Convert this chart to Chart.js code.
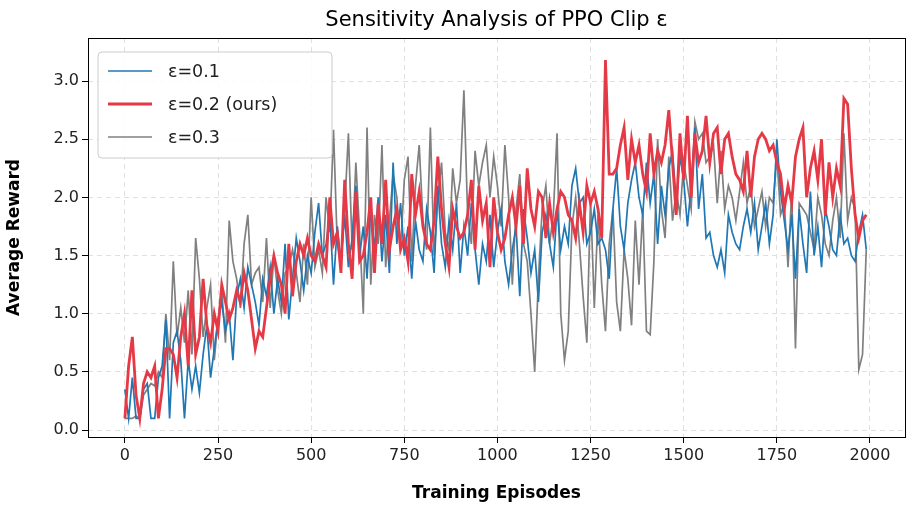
<!DOCTYPE html>
<html><head><meta charset="utf-8">
<script src="https://cdn.jsdelivr.net/npm/chart.js@4/dist/chart.umd.min.js"></script>
<style>html,body{margin:0;padding:0;background:#fff}#w{width:915px;height:508px}</style>
</head><body><div id="w"><canvas id="c"></canvas></div>
<script>
const episodes = Array.from({length:200},(_,i)=>i*10);
const eps01 = [0.35,0.1,0.45,0.1,0.1,0.35,0.4,0.1,0.1,0.45,
0.55,0.95,0.1,0.75,0.85,0.6,0.1,0.6,0.35,0.55,
0.32,0.65,0.9,0.45,0.7,0.95,1.1,0.85,1.0,0.6,
1.15,1.3,1.05,1.4,1.25,1.1,0.9,1.3,1.15,1.4,
1.0,1.3,1.1,1.6,0.95,1.3,1.65,1.45,1.2,1.5,
1.35,1.7,1.95,1.5,1.6,1.85,1.25,1.75,1.45,1.85,
1.4,1.65,2.1,1.5,1.75,1.3,1.9,1.55,2.0,1.45,
1.85,1.35,2.3,1.6,1.95,1.5,1.75,1.3,1.8,1.55,
1.45,1.9,1.7,1.35,2.1,1.6,1.4,1.8,1.55,1.95,
1.35,1.75,1.5,1.95,1.55,1.25,1.6,1.45,1.85,1.4,
1.7,1.9,1.45,1.25,1.55,1.75,1.15,1.9,1.65,1.35,
1.55,1.1,1.7,1.85,1.6,1.4,1.9,1.55,1.75,1.6,
2.1,2.25,1.95,2.0,1.6,1.7,1.9,1.6,1.65,1.55,
1.3,1.9,2.25,1.75,1.55,1.95,2.15,2.3,2.0,1.85,
2.3,1.95,2.2,1.6,2.1,1.85,2.25,2.4,1.95,2.35,
2.15,1.75,2.1,2.6,1.9,2.2,1.65,1.7,1.5,1.4,
1.55,1.35,1.85,1.7,1.6,1.55,1.75,1.9,1.7,1.95,
1.55,1.75,1.95,1.6,1.85,2.5,2.05,1.8,1.55,1.85,
1.3,1.9,1.6,1.35,2.05,1.5,1.75,1.4,1.9,1.75,
1.55,1.5,1.85,1.6,1.65,1.5,1.45,1.7,1.85,1.55];
const eps02 = [0.1,0.55,0.8,0.3,0.1,0.4,0.5,0.45,0.55,0.1,
0.35,0.7,0.7,0.65,0.45,0.8,1.0,0.55,1.2,0.65,
0.8,1.3,0.9,0.75,1.0,0.85,1.25,1.1,0.95,1.05,
1.2,1.1,1.35,1.2,0.95,0.7,0.85,0.8,1.05,1.3,
1.5,1.35,1.25,1.0,1.6,1.15,1.45,1.6,1.5,1.65,
1.5,1.45,1.6,1.5,1.4,2.0,1.6,1.7,1.35,2.15,
1.6,1.3,2.05,1.45,1.5,1.7,2.0,1.35,1.95,1.6,
2.15,1.55,1.75,1.9,1.55,1.65,1.45,2.2,1.85,2.05,
1.75,1.6,1.55,1.8,2.35,1.9,1.6,1.4,1.9,1.75,
1.65,1.7,1.85,2.15,1.55,2.1,1.8,1.95,1.4,2.0,
1.7,1.55,1.65,1.85,2.0,1.75,2.1,1.6,2.25,1.9,
1.75,2.05,2.0,1.65,1.95,1.7,1.9,2.05,2.0,1.85,
1.8,1.65,1.95,1.7,2.1,1.95,2.05,1.9,1.65,3.18,
2.2,2.2,2.25,2.45,2.6,2.15,2.5,2.3,2.45,2.2,
2.05,2.55,2.2,2.4,2.3,2.45,2.75,2.3,1.85,2.55,
2.15,2.7,2.0,2.55,2.3,2.4,2.7,2.3,2.55,2.6,
2.2,2.5,2.55,2.35,2.2,2.15,2.05,2.4,2.0,2.35,
2.5,2.55,2.5,2.4,2.45,2.3,2.2,1.9,2.1,1.95,
2.35,2.5,2.6,2.0,2.25,2.4,2.15,2.5,1.85,2.3,
2.0,2.25,2.1,2.85,2.8,2.25,1.85,1.65,1.8,1.85];
const eps03 = [0.1,0.1,0.1,0.12,0.1,0.3,0.35,0.4,0.38,0.5,
0.45,1.0,0.6,1.45,0.8,1.05,0.75,1.2,0.65,1.65,
1.3,0.8,1.05,1.25,0.6,0.95,1.2,0.75,1.8,1.45,
1.3,1.05,1.6,1.85,1.25,1.35,1.4,1.1,1.65,1.05,
1.5,1.2,1.0,1.35,1.4,1.55,1.35,1.1,1.6,1.25,
2.0,1.4,1.55,1.35,2.0,1.7,2.58,1.6,1.45,1.9,
2.55,1.55,2.3,1.7,1.0,2.6,1.25,1.85,1.6,2.45,
1.4,1.8,2.2,2.0,1.55,2.15,2.35,1.45,2.1,2.45,
1.8,1.55,2.6,1.5,2.0,2.3,1.7,1.55,2.25,1.95,
2.15,2.92,1.85,1.6,2.4,2.1,2.3,2.45,2.0,2.35,
2.1,1.75,2.45,2.0,1.25,1.9,2.2,1.6,1.45,1.0,
0.5,1.3,1.9,2.1,1.6,1.85,2.55,1.0,0.6,0.85,
1.75,2.0,1.6,1.15,0.75,2.0,1.05,1.85,1.25,0.85,
1.6,1.9,1.1,0.85,1.55,1.3,0.9,1.8,1.25,1.9,
0.85,0.82,1.45,2.5,1.9,1.65,2.35,1.8,2.05,1.85,
2.3,2.1,1.9,2.65,2.5,2.55,2.3,2.35,2.45,1.95,
2.4,1.9,2.1,2.0,1.8,2.05,2.3,1.95,2.1,1.75,
1.9,2.05,1.75,2.0,1.95,2.35,1.85,1.95,1.4,2.05,
0.7,1.95,1.9,1.85,1.7,1.55,2.0,1.85,1.6,1.5,
1.8,2.0,1.65,2.55,1.8,2.0,1.9,0.52,0.65,1.55];
const xTicks = [0,250,500,750,1000,1250,1500,1750,2000];
const yTicks = [0,0.5,1,1.5,2,2.5,3];
const labels = ['ε=0.1','ε=0.2 (ours)','ε=0.3'];
const colors = ['#1f77b4','#e63946','#808080'];
const widths = [1.7,2.8,1.7];
const series = [eps01,eps02,eps03];
const FONT = 'DejaVu Sans';

const deco = {
  id:'deco',
  afterDraw(ch){
    const c=ch.ctx, a=ch.chartArea;
    c.save();
    c.strokeStyle='#000'; c.lineWidth=1;
    c.strokeRect(a.left+0.5,a.top+0.5,a.right-a.left,a.bottom-a.top);
    c.fillStyle='#000'; c.font='21px "'+FONT+'"'; c.textAlign='center'; c.textBaseline='middle';
    c.fillText('Sensitivity Analysis of PPO Clip ε',(a.left+a.right)/2,21);
    const x0=a.left+10, y0=a.top+14, w=234, h=106;
    c.fillStyle='rgba(255,255,255,0.85)'; c.strokeStyle='#cccccc';
    c.beginPath(); c.roundRect(x0,y0,w,h,4); c.fill(); c.stroke();
    c.font='17.5px "'+FONT+'"'; c.textAlign='left';
    for(let i=0;i<3;i++){
      const yy=y0+19+i*33;
      c.strokeStyle=colors[i]; c.lineWidth=widths[i];
      c.beginPath(); c.moveTo(x0+10,yy); c.lineTo(x0+54,yy); c.stroke();
      c.fillStyle='#222'; c.fillText(labels[i],x0+70,yy+1);
    }
    c.restore();
  }
};

new Chart(document.getElementById('c'),{
  type:'line',
  data:{datasets:series.map((s,i)=>({label:labels[i],data:s.map((v,j)=>({x:episodes[j],y:v})),borderColor:colors[i],borderWidth:widths[i],pointRadius:0,tension:0,order:i===1?0:1}))},
  options:{
    responsive:true,maintainAspectRatio:false,animation:false,
    layout:{padding:{top:38,right:10,left:0,bottom:0}},
    plugins:{legend:{display:false},title:{display:false},tooltip:{enabled:false}},
    scales:{
      x:{type:'linear',min:-99,max:2094,
        afterBuildTicks(s){s.ticks=xTicks.map(v=>({value:v}));},
        afterFit(s){s.height=71;},
        grid:{color:'#e0e0e0',tickLength:6,tickColor:'#000'},
        border:{display:false,dash:[5,4]},
        ticks:{color:'#222',font:{family:FONT,size:16},maxRotation:0,callback:v=>String(v)},
        title:{display:true,text:'Training Episodes',color:'#000',font:{family:FONT,size:17,weight:'bold'},padding:{top:2}}},
      y:{min:-0.06,max:3.37,
        afterBuildTicks(s){s.ticks=yTicks.map(v=>({value:v}));},
        afterFit(s){s.width=88;},
        grid:{color:'#e0e0e0',tickLength:6,tickColor:'#000'},
        border:{display:false,dash:[5,4]},
        ticks:{color:'#222',font:{family:FONT,size:16},callback:v=>Number(v).toFixed(1)},
        title:{display:true,text:'Average Reward',color:'#000',font:{family:FONT,size:17,weight:'bold'},padding:{bottom:2}}}
    }
  },
  plugins:[deco]
});
</script></body></html>
